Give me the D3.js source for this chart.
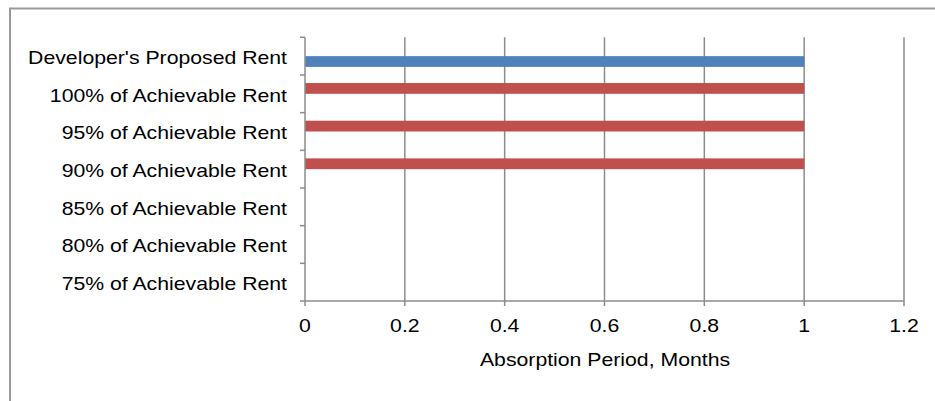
<!DOCTYPE html>
<html><head><meta charset="utf-8">
<script src="https://cdn.jsdelivr.net/npm/d3@7"></script>
<style>
body{margin:0;background:#fff;}
svg{display:block;font-family:"Liberation Sans",Arial,sans-serif;}
</style></head><body>
<svg id="c" width="935" height="401"></svg>
<script>
const categories = ["Developer's Proposed Rent","100% of Achievable Rent","95% of Achievable Rent","90% of Achievable Rent","85% of Achievable Rent","80% of Achievable Rent","75% of Achievable Rent"];
const seriesNames = ["Achievable","Developer"];
const developerValues = [1, null, null, null, null, null, null];
const achievableValues = [null, 1, 1, 1, null, null, null];
const xTicks = [0, 0.2, 0.4, 0.6, 0.8, 1, 1.2];
const colors = {Developer:"#4f81bd", Achievable:"#c0504d"};

const FS = 18, SX = 1.18;
const svg = d3.select("#c");
const m = {left:305, right:904, top:37.3, bottom:301};
const x = d3.scaleLinear().domain([0,1.2]).range([m.left, m.right]);
const y = d3.scaleBand().domain(categories).range([m.top, m.bottom]).paddingInner(0).paddingOuter(0);
const inner = d3.scaleBand().domain(seriesNames).range([0, y.bandwidth()]).paddingInner(0).paddingOuter(0.75);

function stretched(sel, px, py, anchor, txt){
  return sel.append("text")
    .attr("transform",`translate(${px},${py}) scale(${SX},1)`)
    .attr("dy","0.35em").attr("text-anchor",anchor)
    .attr("font-size",FS).attr("fill","#000").text(txt);
}

// outer border
svg.append("rect").attr("x",10).attr("y",8.5).attr("width",940).attr("height",420)
  .attr("fill","none").attr("stroke","#999").attr("stroke-width",2);

// gridlines
svg.append("g").selectAll("line").data(xTicks.slice(1)).join("line")
  .attr("x1",d=>x(d)).attr("x2",d=>x(d)).attr("y1",m.top).attr("y2",m.bottom)
  .attr("stroke","#8c8c8c").attr("stroke-width",1.5);

// bars
const data = [];
categories.forEach((c,i)=>{
  if(developerValues[i]!=null) data.push({c, s:"Developer", v:developerValues[i]});
  if(achievableValues[i]!=null) data.push({c, s:"Achievable", v:achievableValues[i]});
});
svg.append("g").selectAll("rect").data(data).join("rect")
  .attr("x",x(0)).attr("y",d=>y(d.c)+inner(d.s))
  .attr("width",d=>x(d.v)-x(0)).attr("height",inner.bandwidth())
  .attr("fill",d=>colors[d.s]);

// y axis
const yAxis = svg.append("g").attr("transform",`translate(${m.left},0)`);
yAxis.append("line").attr("x1",0).attr("x2",0).attr("y1",m.top).attr("y2",m.bottom).attr("stroke","#8c8c8c").attr("stroke-width",1.5);
const bounds = categories.map(c=>y(c)).concat([m.bottom]);
yAxis.selectAll("line.t").data(bounds).join("line").attr("class","t")
  .attr("x1",-5).attr("x2",0).attr("y1",d=>d).attr("y2",d=>d).attr("stroke","#8c8c8c").attr("stroke-width",1.5);
const yl = yAxis.append("g");
categories.forEach(c=>stretched(yl, -18, y(c)+y.bandwidth()/2+1.5, "end", c));

// x axis
const xAxis = svg.append("g").attr("transform",`translate(0,${m.bottom})`);
xAxis.append("line").attr("x1",m.left).attr("x2",m.right).attr("stroke","#8c8c8c").attr("stroke-width",1.5);
xAxis.selectAll("line.t").data(xTicks).join("line").attr("class","t")
  .attr("x1",d=>x(d)).attr("x2",d=>x(d)).attr("y1",0).attr("y2",5).attr("stroke","#8c8c8c").attr("stroke-width",1.5);
const xl = xAxis.append("g");
xTicks.forEach(d=>stretched(xl, x(d), 25, "middle", d3.format("")(d)));

stretched(svg, 605, 360, "middle", "Absorption Period, Months");
</script></body></html>
